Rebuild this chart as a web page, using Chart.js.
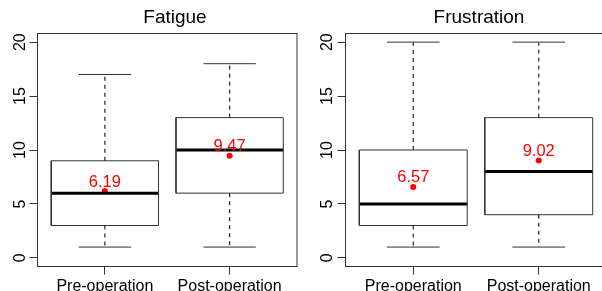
<!DOCTYPE html>
<html>
<head>
<meta charset="utf-8">
<script src="https://cdn.jsdelivr.net/npm/chart.js@4/dist/chart.umd.min.js"></script>
<style>
  html, body { margin: 0; padding: 0; background: #fff; overflow: hidden; width: 602px; height: 291px; }
  canvas { position: absolute; top: 0; }
  #fatigue { left: 0; }
  #frustration { left: 301px; }
</style>
</head>
<body>
<canvas id="fatigue" width="301" height="300"></canvas>
<canvas id="frustration" width="310" height="300"></canvas>
<script>
const categories = ['Pre-operation', 'Post-operation'];
const yTicks = [0, 5, 10, 15, 20];

// Fatigue
const fatigueMin = [1, 1];
const fatigueQ1 = [3, 6];
const fatigueMedian = [6, 10];
const fatigueQ3 = [9, 13];
const fatigueMax = [17, 18];
const fatigueMean = [6.19, 9.47];

// Frustration
const frustrationMin = [1, 1];
const frustrationQ1 = [3, 4];
const frustrationMedian = [5, 8];
const frustrationQ3 = [10, 13];
const frustrationMax = [20, 20];
const frustrationMean = [6.57, 9.02];

const BOX_HALF = 0.43;
const CAP_HALF = 0.21;
const FONT = '"Liberation Sans", Arial, sans-serif';

function line(points, color, width, dash) {
  return {
    data: points,
    showLine: true,
    borderColor: color,
    borderWidth: width,
    borderDash: dash || [],
    borderJoinStyle: 'miter',
    pointRadius: 0,
    fill: false
  };
}

function boxDatasets(min, q1, med, q3, max, mean) {
  const sets = [];
  categories.forEach((c, i) => {
    const x = i + 1;
    // dashed whiskers
    sets.push(line([{x: x, y: q3[i]}, {x: x, y: max[i]}], '#222', 1.2, [4, 4]));
    sets.push(line([{x: x, y: q1[i]}, {x: x, y: min[i]}], '#222', 1.2, [4, 4]));
    // staples
    sets.push(line([{x: x - CAP_HALF, y: max[i]}, {x: x + CAP_HALF, y: max[i]}], '#333', 1));
    sets.push(line([{x: x - CAP_HALF, y: min[i]}, {x: x + CAP_HALF, y: min[i]}], '#333', 1));
    // box
    sets.push(line([
      {x: x - BOX_HALF, y: q1[i]}, {x: x + BOX_HALF, y: q1[i]},
      {x: x + BOX_HALF, y: q3[i]}, {x: x - BOX_HALF, y: q3[i]},
      {x: x - BOX_HALF, y: q1[i]}
    ], '#333', 1));
    // median
    sets.push(line([{x: x - BOX_HALF, y: med[i]}, {x: x + BOX_HALF, y: med[i]}], '#000', 3));
  });
  // means
  sets.push({
    data: mean.map((m, i) => ({x: i + 1, y: m})),
    showLine: false,
    pointRadius: 3,
    pointBackgroundColor: '#ff0000',
    pointBorderWidth: 0
  });
  return sets;
}

function panelPlugin(title, titleX, labelX, mean) {
  return {
    id: 'panel',
    afterDraw(chart) {
      const ctx = chart.ctx;
      const a = chart.chartArea;
      const x = chart.scales.x, y = chart.scales.y;
      ctx.save();
      ctx.strokeStyle = '#333';
      ctx.lineWidth = 1;
      ctx.strokeRect(a.left, a.top, a.right - a.left, a.bottom - a.top);

      ctx.fillStyle = '#000';
      ctx.textAlign = 'center';
      ctx.textBaseline = 'alphabetic';
      ctx.font = '19px ' + FONT;
      ctx.fillText(title, titleX, 23);

      // rotated y tick labels, like R's default las=0
      ctx.font = '16px ' + FONT;
      yTicks.forEach(v => {
        ctx.save();
        ctx.translate(labelX, y.getPixelForValue(v));
        ctx.rotate(-Math.PI / 2);
        ctx.fillText(String(v), 0, 0);
        ctx.restore();
      });

      // mean labels
      ctx.fillStyle = '#ff0000';
      ctx.font = '16.5px ' + FONT;
      mean.forEach((m, i) => {
        ctx.fillText(m.toFixed(2), x.getPixelForValue(i + 1), y.getPixelForValue(m) - 4.5);
      });
      ctx.restore();
    }
  };
}

function drawPanel(id, title, titleX, labelX, axisWidth, padRight, stats) {
  const canvas = document.getElementById(id);
  const H = canvas.height;
  new Chart(canvas, {
    type: 'scatter',
    data: { datasets: boxDatasets.apply(null, stats) },
    options: {
      responsive: false,
      animation: false,
      layout: { padding: { top: 33.5, right: padRight, left: 0, bottom: 0 } },
      plugins: { legend: { display: false }, tooltip: { enabled: false }, title: { display: false } },
      scales: {
        x: {
          type: 'linear',
          min: 0.46,
          max: 2.54,
          afterBuildTicks: s => { s.ticks = categories.map((c, i) => ({ value: i + 1 })); },
          afterFit: s => { s.height = H - 266.5; },
          ticks: {
            autoSkip: false,
            maxRotation: 0,
            padding: 2,
            color: '#000',
            font: { family: FONT, size: 16 },
            callback: v => categories[v - 1]
          },
          grid: { drawOnChartArea: false, drawTicks: true, tickLength: 8, color: '#333' },
          border: { display: false }
        },
        y: {
          min: -0.8,
          max: 20.8,
          afterBuildTicks: s => { s.ticks = yTicks.map(v => ({ value: v })); },
          afterFit: s => { s.width = axisWidth; },
          ticks: { display: false },
          grid: { drawOnChartArea: false, drawTicks: true, tickLength: 8, color: '#333' },
          border: { display: false }
        }
      }
    },
    plugins: [panelPlugin(title, titleX, labelX, stats[5])]
  });
}

drawPanel('fatigue', 'Fatigue', 175, 24.7, 37.5, 0.5,
  [fatigueMin, fatigueQ1, fatigueMedian, fatigueQ3, fatigueMax, fatigueMean]);
drawPanel('frustration', 'Frustration', 178, 31.4, 44.5, 4.5,
  [frustrationMin, frustrationQ1, frustrationMedian, frustrationQ3, frustrationMax, frustrationMean]);
</script>
</body>
</html>
